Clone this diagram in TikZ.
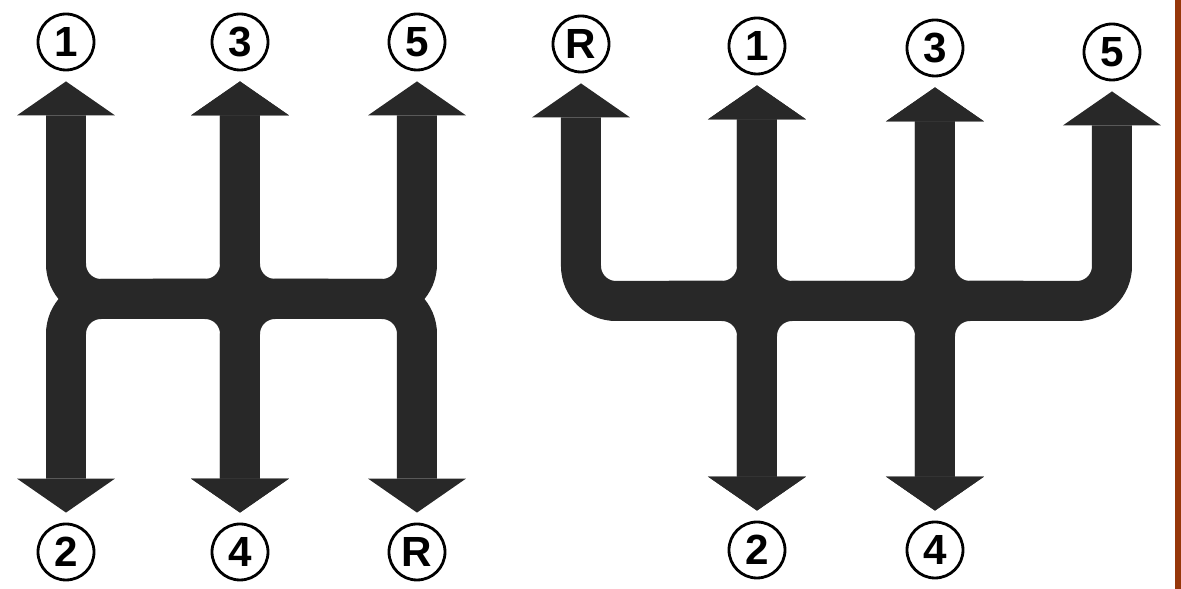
\documentclass[tikz,border=0pt]{standalone}
\usepackage{fontspec}
\setsansfont{Liberation Sans}
\usetikzlibrary{arrows.meta,calc}
\definecolor{grille}{RGB}{40,40,40}
\definecolor{bordure}{RGB}{150,55,10}

\begin{document}
\begin{tikzpicture}[x=0.1mm, y=-0.1mm,
        levier/.style={draw=grille, line width=4mm, rounded corners=3.5mm,
            -{Triangle[width=9.8mm, length=3.4mm, line width=0pt]}, shorten >=1mm},
        rapport/.style={circle, draw, line width=0.8pt, inner sep=0pt, minimum size=5.6mm,
            font=\sffamily\bfseries\fontsize{12}{14}\selectfont}]
                \useasboundingbox (0,0) rectangle (1181,589);
                \fill[bordure] (1175,0) rectangle (1181,589);

                % Grille de gauche : schéma en H (5 vitesses + R en bas à droite)
                \coordinate (ja1) at (66,299);
                \coordinate (ja3) at (240,299);
                \coordinate (ja5) at (417,299);
                \coordinate (ma13) at ($(ja1)!.5!(ja3)$);
                \coordinate (ma35) at ($(ja3)!.5!(ja5)$);

                \node[rapport] (a1) at (66,42) {1};
                \node[rapport] (a3) at (240,42) {3};
                \node[rapport] (a5) at (417,42) {5};
                \node[rapport] (a2) at (66,552) {2};
                \node[rapport] (a4) at (240,552) {4};
                \node[rapport] (aR) at (417,552) {R};

                % Rainures : un virage arrondi par coin
                \draw[levier] (ja3) -- (ja1) -- (a1);
                \draw[levier] (ja3) -- (ja1) -- (a2);
                \draw[levier] (ma13) -- (ja3) -- (a3);
                \draw[levier] (ma35) -- (ja3) -- (a3);
                \draw[levier] (ma13) -- (ja3) -- (a4);
                \draw[levier] (ma35) -- (ja3) -- (a4);
                \draw[levier] (ja3) -- (ja5) -- (a5);
                \draw[levier] (ja3) -- (ja5) -- (aR);

                % Grille de droite : R en haut à gauche
                \coordinate (jbR) at (581,301);
                \coordinate (jb1) at (757,301);
                \coordinate (jb3) at (935,301);
                \coordinate (jb5) at (1112,301);
                \coordinate (mbR1) at ($(jbR)!.5!(jb1)$);
                \coordinate (mb13) at ($(jb1)!.5!(jb3)$);
                \coordinate (mb35) at ($(jb3)!.5!(jb5)$);

                \node[rapport] (bR) at (581,44) {R};
                \node[rapport] (b1) at (757,46) {1};
                \node[rapport] (b3) at (935,48) {3};
                \node[rapport] (b5) at (1112,52) {5};
                \node[rapport] (b2) at (757,550) {2};
                \node[rapport] (b4) at (935,550) {4};

                \draw[levier] (jb1) -- (jbR) -- (bR);
                \draw[levier] (mbR1) -- (jb1) -- (b1);
                \draw[levier] (mb13) -- (jb1) -- (b1);
                \draw[levier] (mbR1) -- (jb1) -- (b2);
                \draw[levier] (mb13) -- (jb1) -- (b2);
                \draw[levier] (mb13) -- (jb3) -- (b3);
                \draw[levier] (mb35) -- (jb3) -- (b3);
                \draw[levier] (mb13) -- (jb3) -- (b4);
                \draw[levier] (mb35) -- (jb3) -- (b4);
                \draw[levier] (jb3) -- (jb5) -- (b5);
            \end{tikzpicture}
\end{document}
